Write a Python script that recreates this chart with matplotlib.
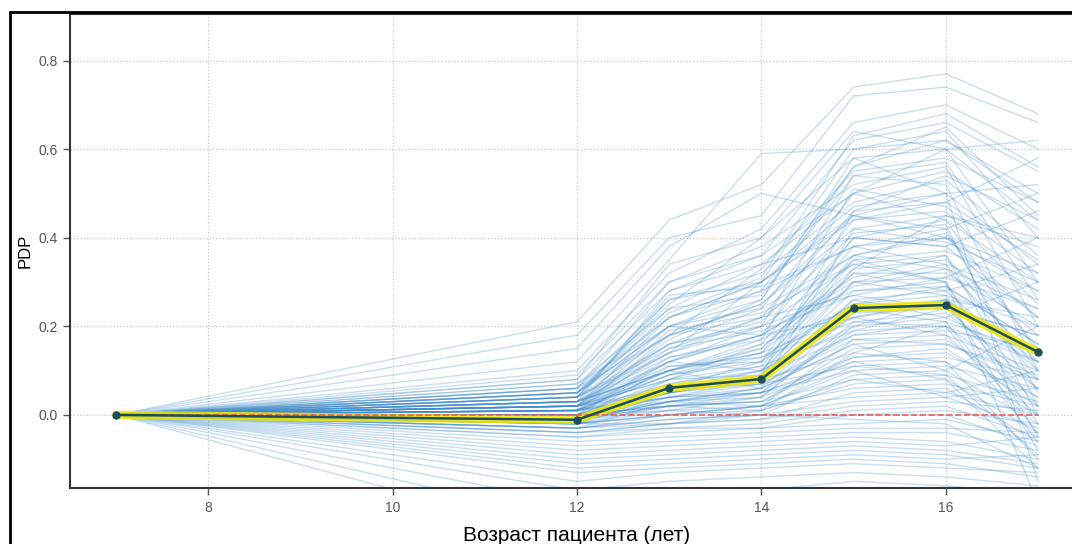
"""ICE / PDP plot for patient age."""
import matplotlib.pyplot as plt
from matplotlib.patches import Rectangle

plt.rcParams["font.family"] = ["Liberation Sans", "DejaVu Sans"]

# feature grid (age, years)
grid = [7, 12, 13, 14, 15, 16, 17]

# averaged partial dependence at each grid point
pdp = [0.0, -0.011, 0.061, 0.081, 0.241, 0.248, 0.142]

# individual conditional expectation curves, values at ages 12..17
# (every curve is centered, so it starts at 0 for age 7)
ice_high = [
    [0.21, 0.44, 0.52, 0.74, 0.77, 0.68],
    [0.18, 0.40, 0.45, 0.72, 0.74, 0.66],
    [0.10, 0.32, 0.42, 0.66, 0.70, 0.60],
    [0.08, 0.28, 0.36, 0.62, 0.66, 0.55],
    [0.12, 0.35, 0.59, 0.60, 0.64, 0.40],
    [0.06, 0.22, 0.30, 0.60, 0.62, 0.50],
    [0.05, 0.25, 0.40, 0.58, 0.60, 0.30],
    [0.07, 0.20, 0.28, 0.56, 0.65, 0.45],
    [0.04, 0.18, 0.33, 0.55, 0.58, 0.48],
    [0.09, 0.30, 0.38, 0.52, 0.56, 0.20],
    [0.03, 0.16, 0.24, 0.50, 0.55, 0.42],
    [0.06, 0.26, 0.32, 0.48, 0.53, 0.36],
    [0.15, 0.38, 0.50, 0.45, 0.40, 0.28],
    [0.02, 0.14, 0.20, 0.54, 0.52, 0.10],
    [0.05, 0.20, 0.26, 0.58, 0.50, 0.52],
    [0.05, 0.18, 0.25, 0.45, 0.50, -0.15],
    [0.06, 0.30, 0.36, 0.50, 0.60, 0.62],
    [0.08, 0.34, 0.40, 0.64, 0.60, 0.44],
    [0.02, 0.17, 0.26, 0.56, 0.62, 0.48],
    [0.04, 0.23, 0.31, 0.63, 0.68, 0.56],
    [-0.02, 0.05, 0.09, 0.46, 0.54, 0.44],
    [0.05, 0.24, 0.27, 0.54, 0.57, 0.26],
]
ice_mid = [
    [0.04, 0.15, 0.22, 0.46, 0.48, 0.35],
    [0.02, 0.12, 0.18, 0.44, 0.46, 0.25],
    [0.06, 0.18, 0.25, 0.42, 0.45, 0.40],
    [0.01, 0.10, 0.16, 0.40, 0.44, 0.30],
    [0.03, 0.14, 0.30, 0.45, 0.42, 0.05],
    [0.00, 0.08, 0.14, 0.38, 0.40, 0.32],
    [0.05, 0.20, 0.24, 0.36, 0.41, 0.15],
    [0.02, 0.11, 0.12, 0.40, 0.38, 0.22],
    [-0.01, 0.06, 0.10, 0.35, 0.37, 0.28],
    [0.04, 0.16, 0.20, 0.34, 0.36, 0.00],
    [0.01, 0.09, 0.15, 0.33, 0.35, 0.18],
    [0.03, 0.13, 0.18, 0.30, 0.34, 0.26],
    [0.00, 0.07, 0.11, 0.36, 0.33, 0.12],
    [0.02, 0.10, 0.14, 0.32, 0.32, 0.20],
    [-0.02, 0.04, 0.08, 0.30, 0.31, 0.24],
    [0.01, 0.12, 0.20, 0.28, 0.30, -0.05],
    [0.05, 0.22, 0.28, 0.38, 0.34, 0.08],
    [0.00, 0.05, 0.09, 0.33, 0.45, 0.38],
    [0.07, 0.24, 0.34, 0.50, 0.44, 0.14],
    [0.03, 0.10, 0.06, 0.42, 0.39, 0.30],
    [0.03, 0.10, 0.15, 0.35, 0.30, -0.20],
    [0.04, 0.26, 0.30, 0.44, 0.48, 0.58],
    [0.03, 0.28, 0.34, 0.40, 0.38, 0.46],
    [0.02, 0.22, 0.30, 0.47, 0.50, 0.34],
    [0.04, 0.27, 0.29, 0.38, 0.42, 0.50],
    [0.01, 0.18, 0.22, 0.36, 0.40, 0.22],
    [0.03, 0.20, 0.18, 0.31, 0.36, 0.10],
    [0.02, 0.16, 0.21, 0.41, 0.43, 0.02],
    [0.01, 0.10, 0.17, 0.51, 0.47, 0.32],
]
ice_low_mid = [
    [0.01, 0.06, 0.09, 0.28, 0.29, 0.16],
    [0.00, 0.05, 0.08, 0.26, 0.28, 0.10],
    [0.02, 0.09, 0.12, 0.25, 0.27, 0.20],
    [-0.01, 0.03, 0.06, 0.24, 0.26, 0.14],
    [0.03, 0.10, 0.14, 0.22, 0.25, 0.02],
    [0.00, 0.04, 0.05, 0.23, 0.24, 0.18],
    [-0.02, 0.02, 0.04, 0.21, 0.23, 0.08],
    [0.01, 0.07, 0.10, 0.20, 0.22, 0.12],
    [0.02, 0.08, 0.16, 0.24, 0.21, -0.04],
    [-0.01, 0.03, 0.05, 0.19, 0.20, 0.06],
    [0.00, 0.05, 0.07, 0.18, 0.19, 0.15],
    [0.03, 0.12, 0.18, 0.22, 0.18, 0.00],
    [-0.03, 0.00, 0.02, 0.17, 0.18, 0.10],
    [0.01, 0.04, 0.06, 0.16, 0.17, 0.04],
    [0.00, 0.02, 0.03, 0.15, 0.16, 0.09],
    [0.02, 0.06, 0.08, 0.26, 0.22, 0.30],
    [-0.02, 0.01, 0.04, 0.20, 0.26, 0.22],
    [0.04, 0.14, 0.22, 0.27, 0.24, 0.06],
    [0.01, 0.05, 0.10, 0.30, 0.27, -0.08],
    [-0.01, 0.02, 0.01, 0.14, 0.20, 0.12],
    [0.00, 0.06, 0.12, 0.32, 0.28, 0.34],
    [0.02, 0.08, 0.09, 0.18, 0.21, 0.14],
    [0.00, 0.13, 0.17, 0.29, 0.33, 0.24],
    [0.01, 0.15, 0.19, 0.27, 0.31, 0.40],
    [-0.01, 0.11, 0.13, 0.25, 0.29, 0.16],
    [0.02, 0.19, 0.23, 0.34, 0.30, -0.02],
    [0.00, 0.12, 0.10, 0.22, 0.26, 0.12],
    [-0.02, 0.08, 0.11, 0.19, 0.24, 0.18],
    [0.01, 0.09, 0.13, 0.21, 0.20, -0.06],
]
ice_near_zero = [
    [-0.01, 0.02, 0.03, 0.13, 0.14, 0.04],
    [0.00, 0.03, 0.04, 0.12, 0.13, 0.08],
    [-0.02, 0.00, 0.02, 0.11, 0.12, 0.00],
    [0.01, 0.04, 0.05, 0.10, 0.11, 0.06],
    [-0.03, -0.01, 0.00, 0.09, 0.10, -0.02],
    [0.00, 0.02, 0.03, 0.08, 0.09, 0.03],
    [-0.02, 0.00, 0.01, 0.07, 0.08, -0.04],
    [-0.01, 0.01, 0.02, 0.06, 0.07, 0.02],
    [-0.04, -0.02, -0.01, 0.05, 0.06, -0.06],
    [0.01, 0.03, 0.02, 0.04, 0.05, 0.00],
    [-0.03, -0.01, 0.00, 0.03, 0.04, -0.03],
    [-0.02, -0.02, -0.01, 0.02, 0.03, 0.01],
    [-0.05, -0.03, -0.02, 0.01, 0.02, -0.05],
    [0.00, 0.01, 0.00, 0.00, 0.01, -0.02],
    [-0.04, -0.03, -0.03, 0.00, 0.00, -0.07],
    [0.02, 0.05, 0.08, 0.14, 0.12, -0.10],
    [-0.01, 0.03, 0.06, 0.16, 0.10, 0.20],
    [-0.03, -0.02, 0.01, 0.08, 0.05, 0.10],
    [0.00, 0.02, 0.05, 0.12, 0.08, -0.12],
    [-0.02, 0.00, 0.02, 0.10, 0.04, 0.06],
    [-0.01, 0.06, 0.07, 0.17, 0.16, 0.08],
    [-0.03, 0.03, 0.05, 0.13, 0.15, 0.02],
    [0.00, 0.04, 0.07, 0.11, 0.09, -0.09],
]
ice_low = [
    [-0.05, -0.04, -0.03, -0.02, -0.01, -0.06],
    [-0.06, -0.05, -0.04, -0.03, -0.03, -0.04],
    [-0.07, -0.06, -0.05, -0.04, -0.04, -0.08],
    [-0.08, -0.07, -0.06, -0.05, -0.06, -0.10],
    [-0.09, -0.08, -0.07, -0.06, -0.07, -0.05],
    [-0.10, -0.09, -0.08, -0.07, -0.08, -0.11],
    [-0.11, -0.10, -0.09, -0.08, -0.09, -0.12],
    [-0.12, -0.11, -0.10, -0.09, -0.10, -0.09],
    [-0.13, -0.12, -0.11, -0.10, -0.11, -0.14],
    [-0.15, -0.13, -0.12, -0.11, -0.12, -0.13],
    [-0.17, -0.15, -0.14, -0.13, -0.14, -0.16],
    [-0.20, -0.18, -0.17, -0.15, -0.16, -0.18],
    [-0.24, -0.21, -0.19, -0.17, -0.17, -0.20],
    [-0.28, -0.25, -0.22, -0.20, -0.20, -0.22],
    [-0.04, -0.02, 0.00, -0.01, -0.02, -0.12],
]

x_ticks = [8, 10, 12, 14, 16]
y_ticks = [0.0, 0.2, 0.4, 0.6, 0.8]


def main():
    fig = plt.figure(figsize=(10.72, 5.44), dpi=100)
    # screenshot frame around the figure
    fig.patches.append(Rectangle((10 / 1072, -0.1), 1.2, 1.1 - 12 / 544,
                                 transform=fig.transFigure, fill=False,
                                 edgecolor="black", linewidth=2))

    ax = fig.add_axes([70 / 1072, 1 - 488 / 544, 1014 / 1072, 474 / 544])

    curves = ice_high + ice_mid + ice_low_mid + ice_near_zero + ice_low
    for vals in curves:
        ax.plot(grid, [0.0] + vals, color="#3d8bcb", alpha=0.28,
                linewidth=1.0, zorder=2)

    ax.plot(grid, pdp, color="#f2e600", alpha=0.85, linewidth=6,
            solid_capstyle="round", zorder=3)
    ax.plot([grid[0], grid[-1]], [0, 0], color="#e8605a", linestyle="--",
            linewidth=1.2, zorder=4)
    ax.plot(grid, pdp, color="#1a4e5d", linewidth=1.8, marker="o",
            markersize=5, zorder=5)

    ax.set_xlim(6.5, 17.5)
    ax.set_ylim(-0.165, 0.905)
    ax.set_xticks(x_ticks)
    ax.set_yticks(y_ticks)
    ax.set_yticklabels([f"{v:.1f}" for v in y_ticks])
    ax.grid(True, linestyle=":", color="#c8c8c8", linewidth=0.9, zorder=0)
    ax.set_axisbelow(True)

    for side in ("left", "bottom", "top"):
        ax.spines[side].set_color("#333333")
        ax.spines[side].set_linewidth(1.5)
    ax.spines["right"].set_visible(False)
    ax.tick_params(colors="#555555", labelsize=10, length=5, width=1,
                   pad=4)

    ax.set_xlabel("Возраст пациента (лет)", fontsize=15, color="black",
                  labelpad=8)
    ax.set_ylabel("PDP", fontsize=12, color="black", labelpad=4)

    fig.savefig("out.png", dpi=100)


if __name__ == "__main__":
    main()
